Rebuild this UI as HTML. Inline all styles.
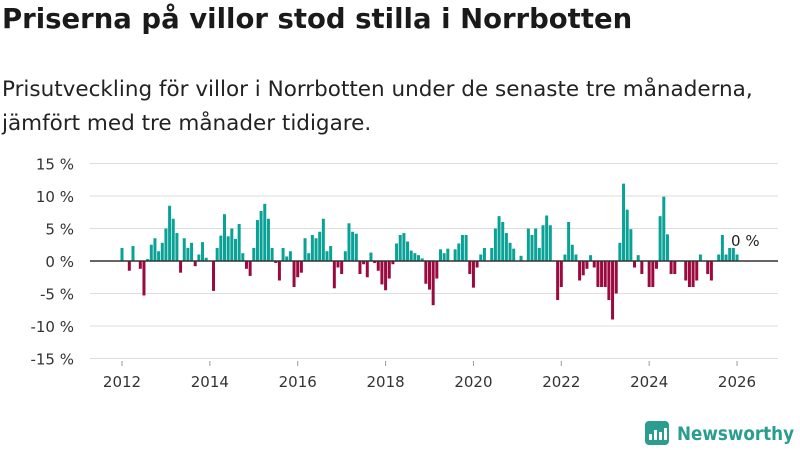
<!DOCTYPE html>
<html><head><meta charset="utf-8"><style>
body{margin:0;width:800px;height:450px;background:#fff;font-family:"Liberation Sans","DejaVu Sans",sans-serif;overflow:hidden;position:relative}
#title{position:absolute;left:2px;top:3px;font-size:27.5px;font-weight:bold;color:#1a1a1a;margin:0;font-family:"DejaVu Sans",sans-serif;white-space:nowrap}
#sub{position:absolute;left:2px;top:73px;font-size:21.5px;line-height:34px;color:#222;font-family:"DejaVu Sans",sans-serif;white-space:nowrap}
svg{position:absolute;left:0;top:0}
</style></head><body>
<h1 id="title">Priserna på villor stod stilla i Norrbotten</h1>
<div id="sub">Prisutveckling för villor i Norrbotten under de senaste tre månaderna,<br>jämfört med tre månader tidigare.</div>
<svg id="chart" width="800" height="450"></svg>
<script>
const startYear = 2012;
const values = [2,0,-1.5,2.3,0,-1.2,-5.3,0.3,2.5,3.5,1.5,2.8,
5,8.5,6.5,4.3,-1.8,3.5,2,2.8,-0.8,1,2.9,0.5,
0,-4.6,2,3.9,7.2,3.8,5,3.4,5.7,1.2,-1.2,-2.3,
2,6.3,7.7,8.8,6.5,2,-0.3,-3,2,0.7,1.5,-4,
-2.5,-1.8,3.5,1.2,4,3.5,4.5,6.5,1.5,2.3,-4.2,-1,
-2,1.5,5.8,4.5,4.2,-2,-0.5,-2.5,1.3,-0.3,-1.5,-3.6,
-4.5,-2.7,-0.5,2.7,4,4.3,3,1.6,1.2,0.9,0.4,-3.5,
-4.4,-6.8,-2.7,1.8,1.2,1.9,0,1.8,2.7,4,4,-2,
-4.1,-1,1,2,0,2,5,6.9,6,4.3,2.8,1.9,
0,0.8,0,5,4,5,2,5.5,7,5.5,0,-6,
-4,1,6,2.5,1,-3,-2.2,-1.2,0.9,-1,-4,-4,
-4,-6,-9,-5,2.8,11.9,7.9,4.9,-1,0.9,-2,0,
-4,-4,-1.2,6.9,9.9,4.1,-2,-2,0,0,-3,-4,
-4,-3,1,0,-2,-3,0,1,4,1,2,2,1];
const yTicks = [15,10,5,0,-5,-10,-15];
const xTicks = [2012,2014,2016,2018,2020,2022,2024,2026];
const lastLabel = "0 %";

const svg = document.getElementById('chart');
const NS = 'http://www.w3.org/2000/svg';
const y = v => 261 - v * 6.5;
const xYear = yr => 122 + (yr - 2012) * 43.93;
const xMonth = i => xYear(startYear + i / 12);
function mk(t, a){const e=document.createElementNS(NS,t);for(const k in a)e.setAttribute(k,a[k]);svg.appendChild(e);return e;}

yTicks.forEach(t=>{
  if(t!==0){const g=mk('line',{x1:90,x2:778,y1:y(t),y2:y(t),stroke:'#dddddd','stroke-width':1});
  
  }
  const l=mk('text',{x:74,y:y(t)+6,'text-anchor':'end','font-size':15,fill:'#333','font-family':'DejaVu Sans, sans-serif'});
  l.textContent=t+' %';
  
  
});
xTicks.forEach(t=>{
  const tk=mk('line',{x1:xYear(t),x2:xYear(t),y1:361,y2:366,stroke:'#999','stroke-width':1});
  
  
  const l=mk('text',{x:xYear(t),y:387,'text-anchor':'middle','font-size':15,fill:'#333','font-family':'DejaVu Sans, sans-serif'});
  l.textContent=t;
  
  
});
values.forEach((v,i)=>{
  if(v===0)return;
  const x=xMonth(i)-1.5;
  const b=mk('rect',{x:x,y:Math.min(y(v),y(0)),width:3,height:Math.abs(y(v)-y(0)),fill:v>0?'#0aa296':'#9b0a3f'});
  
  
});
const z=mk('line',{x1:90,x2:778,y1:y(0),y2:y(0),stroke:'#333','stroke-width':1.5});


const ll=mk('text',{x:xMonth(values.length-1)-6,y:246,'font-size':15,fill:'#222','font-family':'DejaVu Sans, sans-serif'});
ll.textContent=lastLabel;



const logo=mk('g',{});


const box=document.createElementNS(NS,'rect');
[['x',645],['y',421],['width',24],['height',24],['rx',4],['fill','#2a9d8f']].forEach(([k,v])=>box.setAttribute(k,v));
logo.appendChild(box);
[[649,434,3,6],[654,430,3,10],[659,432,3,8],[664,428,3,12]].forEach(r=>{const e=document.createElementNS(NS,'rect');e.setAttribute('x',r[0]);e.setAttribute('y',r[1]);e.setAttribute('width',r[2]);e.setAttribute('height',r[3]);e.setAttribute('fill','#fff');logo.appendChild(e);});
const lt=document.createElementNS(NS,'text');
lt.setAttribute('x',677);lt.setAttribute('y',440);lt.setAttribute('font-size',19);lt.setAttribute('font-weight','bold');lt.setAttribute('fill','#2a9d8f');lt.setAttribute('font-family','DejaVu Sans, sans-serif');
lt.setAttribute('textLength',117);lt.setAttribute('lengthAdjust','spacingAndGlyphs');
lt.textContent='Newsworthy';
logo.appendChild(lt);
</script>
</body></html>
